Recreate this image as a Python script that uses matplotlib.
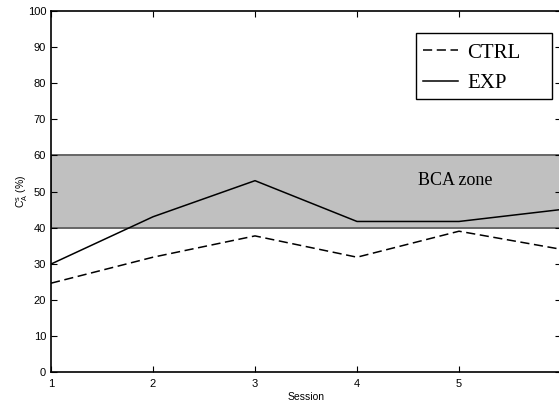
import matplotlib.pyplot as plt
import numpy as np
from matplotlib.patches import Rectangle

sesiones = [1, 2, 3, 4, 5, 6]
etiquetas_x = ['1', '2', '3', '4', '5', '']
ctrl = [24.6, 31.8, 37.7, 31.8, 39.0, 34.0]
exp = [29.9, 43.0, 53.0, 41.7, 41.7, 45.0]
zona = (40, 60)

fig = plt.figure(figsize=(5.59, 4.01), dpi=100)
ax = fig.add_axes([51/559, 29/401, 510/559, 361/401])

ax.axhspan(zona[0], zona[1], facecolor='#c0c0c0', edgecolor='#666666', lw=1.4, zorder=1)
ax.plot(sesiones, ctrl, color='black', lw=1.1, ls=(0, (6, 3)), label='CTRL', zorder=3)
ax.plot(sesiones, exp, color='black', lw=1.1, label='EXP', zorder=3)

ax.text(4.96, 53, 'BCA zone', family='Liberation Serif', fontsize=13, ha='center', va='center')

ax.set_xlim(1, 6)
ax.set_ylim(0, 100)
ax.set_xticks(sesiones)
ax.set_xticklabels(etiquetas_x)
ax.set_yticks(np.arange(0, 101, 10))
ax.tick_params(direction='in', length=4, width=0.8, top=True, right=True,
               labelsize=8)
ax.tick_params(axis='x', pad=5)
for lab in ax.get_xticklabels() + ax.get_yticklabels():
    lab.set_family('Liberation Sans')
for s in ax.spines.values():
    s.set_linewidth(1.2)

ax.set_xlabel('Session', family='Liberation Sans', fontsize=7.5, labelpad=2)
ax.set_ylabel(r'C$_\mathregular{A}^\mathregular{s}$ (%)', family='Liberation Sans',
              fontsize=7.5, labelpad=-2)

# recuadro de la leyenda
marco = Rectangle((416/559, 1 - 99/401), 136/559, 66/401,
                  transform=fig.transFigure, facecolor='white',
                  edgecolor='black', lw=1.0, zorder=4, clip_on=False)
ax.add_patch(marco)
leg = ax.legend(loc='upper left', bbox_to_anchor=(423/559, 1 - 43/401),
                bbox_transform=fig.transFigure, frameon=False,
                handlelength=1.7, handletextpad=0.43, borderpad=0,
                borderaxespad=0, labelspacing=0.52,
                prop={'family': 'Liberation Serif', 'size': 15})
leg.set_zorder(5)

fig.savefig('out.png', dpi=100)
